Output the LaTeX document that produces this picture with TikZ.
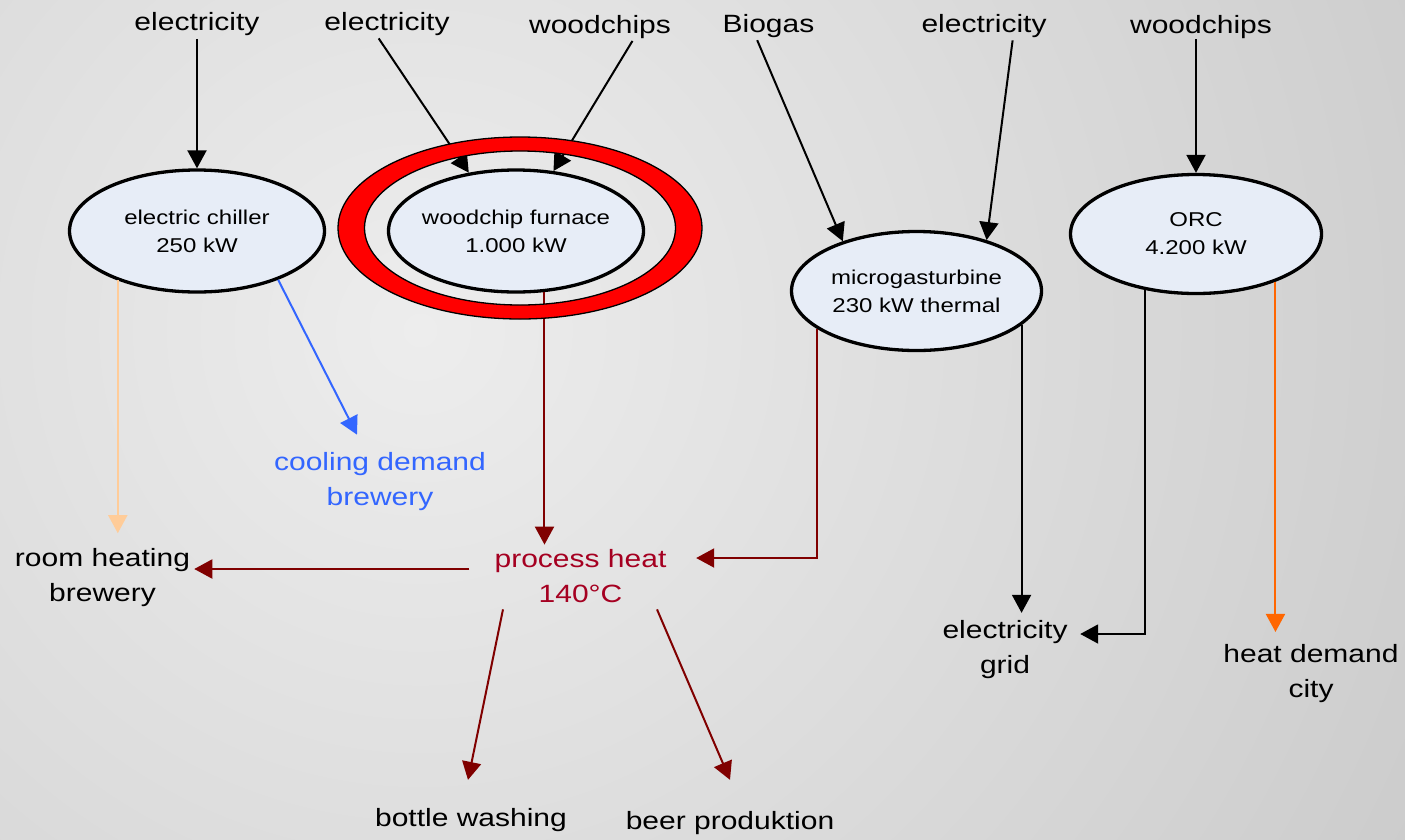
\documentclass[tikz,border=0pt]{standalone}
\usepackage{fontspec}
\setmainfont{Liberation Sans}[FakeStretch=1.2]
\usetikzlibrary{arrows.meta,shapes.geometric}
\definecolor{bgin}{HTML}{EDEDED}
\definecolor{bgout}{HTML}{CBCBCB}
\definecolor{unitfill}{HTML}{E7EDF7}
\definecolor{heatline}{HTML}{800000}
\definecolor{heattext}{HTML}{A50021}
\definecolor{coolblue}{HTML}{3366FF}
\definecolor{peach}{HTML}{FFCC99}
\definecolor{cityorange}{HTML}{FF6600}
\definecolor{ringred}{HTML}{FF0000}

\begin{document}
\begin{tikzpicture}[x=1pt,y=-1pt,
  unit/.style={ellipse, draw=black, line width=3.3pt, fill=unitfill, inner sep=0pt},
  unittext/.style={inner sep=0pt, align=center, font=\fontsize{20}{28}\selectfont},
  lbl/.style={inner sep=0pt, align=center, font=\fontsize{25}{35}\selectfont},
  feed/.style={line width=2pt, -{Triangle[length=18pt,width=19pt]}, shorten <=3pt},
  flow/.style={line width=2pt, -{Triangle[length=18pt,width=19pt]}},
]
% page and background
\useasboundingbox (0,0) rectangle (1405,839);
\begin{scope}
  \clip (0,0) rectangle (1405,839);
  \shade[inner color=bgin, outer color=bgout] (420,330) circle (1150);
\end{scope}

% supplies
\node[lbl, anchor=base] (e1)  at (197,30.5) {electricity};
\node[lbl, anchor=base] (e2)  at (387,30.5) {electricity};
\node[lbl, anchor=base] (w1)  at (600,33)   {woodchips};
\node[lbl, anchor=base] (bio) at (768.5,32) {Biogas};
\node[lbl, anchor=base] (e4)  at (984,32)   {electricity};
\node[lbl, anchor=base] (w2)  at (1201,33)  {woodchips};

% conversion units
\node[unit, minimum width=255pt, minimum height=122pt,
  label={[unittext]center:{electric chiller\\250 kW}}] (chiller) at (197,231) {};
\node[unit, minimum width=255pt, minimum height=122pt,
  label={[unittext]center:{woodchip furnace\\1.000 kW}}] (furnace) at (516,231) {};
\node[unit, minimum width=250pt, minimum height=119pt,
  label={[unittext]center:{microgasturbine\\230 kW thermal}}] (micro) at (916.5,291) {};
\node[unit, minimum width=251pt, minimum height=119pt,
  label={[unittext]center:{ORC\\4.200 kW}}] (orc) at (1196,234) {};

% demands
\node[lbl, text=coolblue] (cool) at (380,482) {cooling demand\\brewery};
\node[lbl, text=heattext] (ph) at (580.5,576.5) {process heat\\140°C};
\node[lbl] (rh) at (102.5,577.5) {room heating\\brewery};
\node[lbl] (eg) at (1005,650) {electricity\\grid};
\node[lbl] (hd) at (1311,673.3) {heat demand\\city};
\node[lbl] (bw) at (471,820) {bottle washing};
\node[lbl] (bp) at (730,823) {beer produktion};

% inputs
\draw[feed] (e1.south) -- (chiller.north);
\draw[feed] ([xshift=-10pt]e2.south) -- (furnace.129);
\draw[feed] ([xshift=34pt]w1.south) -- (furnace.58);
\draw[feed] ([xshift=-12.5pt]bio.south) -- (micro.146);
\draw[feed] ([xshift=29pt]e4.south) -- (micro.36);
\draw[feed, shorten <=1pt] (w2.south -| orc.north) -- (orc.north);

% outputs
\draw[flow, peach, shorten >=15pt] (chiller.212) -- (chiller.212 |- rh.north);
\draw[flow, coolblue] (chiller.329) -- ([xshift=-23pt,yshift=18pt]cool.north);
\draw[flow, heatline, shorten >=5pt] (furnace.295) -- (furnace.295 |- ph.north);
\draw[flow, heatline] (micro.201.6) |- ([xshift=29.6pt,yshift=18.5pt]ph.east);
\coordinate (phL) at ([xshift=-25pt,yshift=7.5pt]ph.west);
\draw[flow, heatline, shorten >=4pt] (phL) -- (phL -| rh.east);
\draw[flow, heatline] ([xshift=-77.5pt,yshift=-6pt]ph.south) -- ([xshift=-3pt,yshift=28.3pt]bw.north);
\draw[flow, heatline] ([xshift=76.5pt,yshift=-6pt]ph.south) -- ([yshift=31.3pt]bp.north);
\draw[flow, shorten >=7.8pt] (micro.342.4) -- (micro.342.4 |- eg.north);
\draw[flow] (orc.228.6) |- ([xshift=12.5pt,yshift=16pt]eg.east);
\draw[flow, cityorange, shorten >=12pt] (orc.329) -- (orc.329 |- hd.north);

% burner ring around the furnace
\filldraw[fill=ringred, draw=black, line width=1.3pt, even odd rule]
  (520,228) ellipse [x radius=182, y radius=91]
  (520,228) ellipse [x radius=155.5, y radius=77];
\end{tikzpicture}
\end{document}
